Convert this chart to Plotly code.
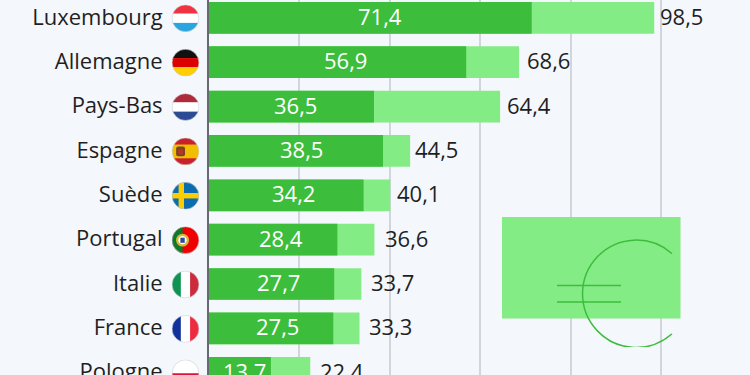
import base64
import plotly.graph_objects as go

countries = ["Luxembourg", "Allemagne", "Pays-Bas", "Espagne", "Suède", "Portugal", "Italie", "France", "Pologne"]
dark_values = [71.4, 56.9, 36.5, 38.5, 34.2, 28.4, 27.7, 27.5, 13.7]
total_values = [98.5, 68.6, 64.4, 44.5, 40.1, 36.6, 33.7, 33.3, 22.4]

BG = "#F4F7FB"
DARK = "#3CBD3C"
LIGHT = "#84EC84"
GRID = "#D2D6DC"
INK = "#1F1F1F"
W, H = 750, 375
X0 = 209
PX_PER_UNIT = 4.52
ROW = 44.37
BAR_Y0 = 17.8
FLAG_X, FLAG_Y0, FLAG_R = 185.5, 18.3, 13.8
INNER_NUDGE_PX = [10, 8.4, 4.5, 5, 7.7, 7.8, 6.7, 6.6, 4.8]
OUTER_GAP_PX = [4, 6, 5, 3, 5, 9, 8, 7, 8]
LABEL_RAISE_PX = 2


def stripes_h(colors):
    h = 28 / len(colors)
    return "".join(f'<rect x="0" y="{i*h}" width="28" height="{h}" fill="{c}"/>' for i, c in enumerate(colors))


def stripes_v(colors):
    w = 28 / len(colors)
    return "".join(f'<rect x="{i*w}" y="0" width="{w}" height="28" fill="{c}"/>' for i, c in enumerate(colors))


flags = {
    "Luxembourg": stripes_h(["#EF3340", "#FFFFFF", "#2AA5E0"]),
    "Allemagne": stripes_h(["#111111", "#DD0000", "#FFCE00"]),
    "Pays-Bas": stripes_h(["#AE2B3C", "#FFFFFF", "#2B4C95"]),
    "Espagne": '<rect width="28" height="28" fill="#F1BF00"/><rect width="28" height="7" fill="#C8202C"/>'
               '<rect y="21" width="28" height="7" fill="#C8202C"/><rect x="4.5" y="9" width="9" height="10" rx="2" fill="#7A4420"/>'
               '<rect x="6.5" y="12" width="5" height="5" fill="#B5382C"/>',
    "Suède": '<rect width="28" height="28" fill="#0B6CB0"/><rect x="7" width="5.5" height="28" fill="#FFCC00"/>'
             '<rect y="11.2" width="28" height="5.5" fill="#FFCC00"/>',
    "Portugal": '<rect width="28" height="28" fill="#F00000"/><rect width="11" height="28" fill="#0B7A2B"/>'
                '<circle cx="11" cy="14" r="6.5" fill="#D8B83A"/><circle cx="11" cy="14" r="4.2" fill="#FFFFFF"/>'
                '<rect x="8.8" y="11.5" width="4.4" height="5.2" fill="#2B4C95"/>',
    "Italie": stripes_v(["#0E9350", "#FFFFFF", "#CC2B3C"]),
    "France": stripes_v(["#12309A", "#FFFFFF", "#EE2C40"]),
    "Pologne": stripes_h(["#FFFFFF", "#DC143C"]),
}


def data_uri(svg):
    return "data:image/svg+xml;base64," + base64.b64encode(svg.encode()).decode()


def flag_svg(body):
    return (
        '<svg xmlns="http://www.w3.org/2000/svg" width="112" height="112" viewBox="0 0 28 28">'
        '<defs><clipPath id="c"><circle cx="14" cy="14" r="13.6"/></clipPath></defs>'
        f'<g clip-path="url(#c)">{body}</g>'
        '<circle cx="14" cy="14" r="13.6" fill="none" stroke="#C9CDD2" stroke-width="0.6"/></svg>'
    )


euro_svg = (
    f'<svg xmlns="http://www.w3.org/2000/svg" width="720" height="520" viewBox="0 0 180 130">'
    f'<rect x="0" y="0" width="178.5" height="101.5" fill="{LIGHT}"/>'
    f'<path d="M169.5 36.3 A53.7 53.7 0 1 0 169.5 117.3" fill="none" stroke="{DARK}" stroke-width="1.5" stroke-linecap="round"/>'
    f'<path d="M55 68.5 H119 M55 85 H119" fill="none" stroke="{DARK}" stroke-width="1.3"/></svg>'
)

plot_w = W - X0
images = []
for i, name in enumerate(countries):
    images.append(dict(
        source=data_uri(flag_svg(flags[name])),
        xref="paper", yref="paper", layer="above",
        x=(FLAG_X - FLAG_R - X0) / plot_w, y=1 - (FLAG_Y0 + i * ROW - FLAG_R) / H,
        sizex=2 * FLAG_R / plot_w, sizey=2 * FLAG_R / H,
        sizing="stretch", xanchor="left", yanchor="top",
    ))
images.append(dict(
    source=data_uri(euro_svg), xref="paper", yref="paper", layer="above",
    x=(502 - X0) / plot_w, y=1 - 217 / H, sizex=180 / plot_w, sizey=130 / H,
    sizing="stretch", xanchor="left", yanchor="top",
))


def fmt(v):
    return f"{v:.1f}".replace(".", ",")


annotations = []
for name, dark, total, nudge, gap in zip(countries, dark_values, total_values, INNER_NUDGE_PX, OUTER_GAP_PX):
    annotations.append(dict(
        x=dark / 2, y=name, xref="x", yref="y", text=fmt(dark), showarrow=False,
        xanchor="center", yanchor="middle", xshift=nudge, yshift=LABEL_RAISE_PX,
        font=dict(family="Open Sans", size=22, color="#FFFFFF"),
    ))
    annotations.append(dict(
        x=total, y=name, xref="x", yref="y", text=fmt(total), showarrow=False,
        xanchor="left", yanchor="middle", xshift=gap, yshift=LABEL_RAISE_PX,
        font=dict(family="Open Sans", size=22, color=INK),
    ))

fig = go.Figure()
fig.add_bar(
    y=countries, x=total_values, orientation="h", width=31.7 / ROW,
    marker=dict(color=LIGHT, line_width=0), hoverinfo="skip",
)
fig.add_bar(
    y=countries, x=dark_values, orientation="h", width=31.7 / ROW,
    marker=dict(color=DARK, line_width=0), hoverinfo="skip",
)
fig.update_layout(
    width=W, height=H, barmode="overlay", showlegend=False,
    paper_bgcolor=BG, plot_bgcolor=BG, images=images, annotations=annotations,
    margin=dict(l=X0, r=0, t=0, b=0),
    xaxis=dict(
        range=[0, plot_w / PX_PER_UNIT], dtick=20, showgrid=True, gridcolor=GRID, gridwidth=2,
        showticklabels=False, ticks="", zeroline=False, showline=False, automargin=False,
    ),
    yaxis=dict(
        range=[(H - BAR_Y0) / ROW, -BAR_Y0 / ROW], type="category", categoryorder="array", categoryarray=countries,
        showgrid=False, zeroline=False, showline=True, linecolor="#666A70", linewidth=2, automargin=False,
        ticks="outside", ticklen=40, tickcolor="rgba(0,0,0,0)", ticklabelshift=1,
        tickfont=dict(family="Open Sans", size=22, color=INK),
    ),
)
fig.write_html(
    "out.html", config=dict(displayModeBar=False),
    post_script="document.body.style.margin='0';document.documentElement.style.overflow='hidden';",
)
